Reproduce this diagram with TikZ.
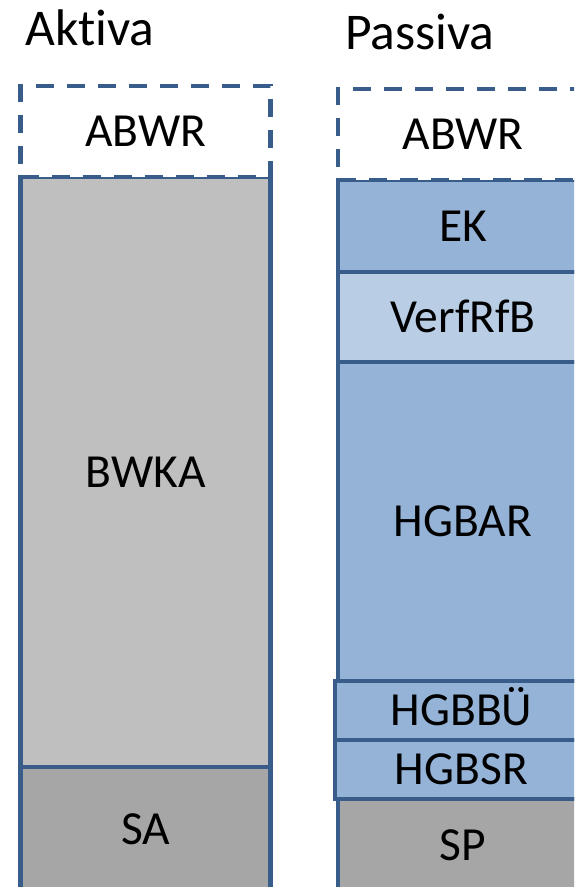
\documentclass[tikz,border=0pt]{standalone}
\usepackage{fontspec}
\setmainfont{Carlito}[Ligatures={NoCommon,NoContextual}]
\definecolor{edge}{HTML}{385D8A}
\definecolor{blueA}{HTML}{95B3D7}
\definecolor{blueB}{HTML}{B9CDE5}
\definecolor{greyA}{HTML}{BFBFBF}
\definecolor{greyB}{HTML}{A6A6A6}
\tikzset{
  cell/.style={draw=edge, line width=4.8pt, rectangle, inner sep=0pt, minimum width=250pt,
    font=\fontsize{47.5}{51}\selectfont, text height=30pt, text depth=0pt, align=center},
  dashcell/.style={cell, fill=white, dash pattern=on 18pt off 13pt},
  title/.style={font=\fontsize{51.5}{56}\selectfont, anchor=base west, inner sep=0pt}
}
\begin{document}
\begin{tikzpicture}[x=1pt,y=-1pt]
\useasboundingbox (0,0) rectangle (574,887);
\clip (0,0) rectangle (574,887);
\fill[white] (0,0) rectangle (574,887);
% titles
\node[title] (aktiva) at (25,45) {Aktiva};
\node[title] (passiva) at (345,49) {Passiva};
% left column
\node[cell, fill=greyA, minimum height=590pt] (bwka) at (145.7,472) {BWKA};
\node[cell, fill=greyB, minimum height=125pt] (sa) at (145.7,829.5) {SA};
\node[dashcell, minimum height=91pt] (abwrl) at (145.7,131.5) {ABWR};
% right column
\node[cell, fill=blueA, minimum height=92pt] (ek) at (463,226) {EK};
\node[cell, fill=blueB, minimum height=90pt] (verf) at (463,317) {VerfRfB};
\node[cell, fill=blueA, minimum height=319pt] (hgbar) at (463,521.5) {HGBAR};
\node[cell, fill=blueA, minimum height=59pt, minimum width=253pt] (hgbbu) at (461.5,710.5) {HGBBÜ};
\node[cell, fill=blueA, minimum height=59pt, minimum width=253pt] (hgbsr) at (461.5,769.5) {HGBSR};
\node[cell, fill=greyB, minimum height=93pt] (sp) at (463,845.5) {SP};
\node[dashcell, minimum height=91pt] (abwrr) at (463,134.5) {ABWR};
\end{tikzpicture}
\end{document}
